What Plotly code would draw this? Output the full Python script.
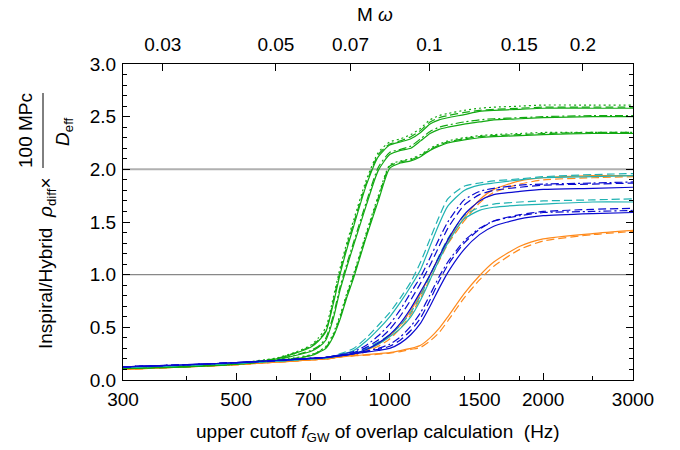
import math
import plotly.graph_objects as go

# ---------------- data ----------------
freq = [300, 400, 500, 600, 650, 700, 750, 800, 850, 900, 950, 1000, 1050,
        1100, 1150, 1200, 1250, 1300, 1400, 1500, 1600, 1800, 2000, 2500, 3000]
freq_green = [300, 400, 500, 600, 650, 700, 725, 750, 775, 800, 825, 850, 900, 950, 1000,
              1050, 1100, 1150, 1200, 1250, 1300, 1400, 1500, 1600, 1800, 2000, 2500, 3000]

# green family (on freq_green)
green_A_dot = [0.11, 0.135, 0.16, 0.21, 0.26, 0.33, 0.40, 0.50, 0.78, 1.07, 1.31, 1.52, 1.90, 2.16, 2.26,
               2.29, 2.33, 2.39, 2.47, 2.51, 2.53, 2.56, 2.58, 2.59, 2.60, 2.61, 2.61, 2.61]
green_A_dash = [0.11, 0.13, 0.155, 0.205, 0.255, 0.32, 0.38, 0.47, 0.75, 1.04, 1.28, 1.49, 1.87, 2.14, 2.24,
                2.27, 2.31, 2.37, 2.45, 2.49, 2.51, 2.54, 2.56, 2.57, 2.58, 2.59, 2.59, 2.59]
green_A_solid = [0.11, 0.13, 0.155, 0.20, 0.25, 0.31, 0.37, 0.46, 0.72, 1.01, 1.25, 1.46, 1.85, 2.12, 2.23,
                 2.26, 2.29, 2.35, 2.43, 2.47, 2.49, 2.52, 2.55, 2.56, 2.57, 2.58, 2.58, 2.58]
green_B_solid = [0.11, 0.13, 0.15, 0.19, 0.23, 0.27, 0.31, 0.38, 0.58, 0.86, 1.08, 1.28, 1.66, 1.99, 2.14,
                 2.18, 2.20, 2.27, 2.34, 2.38, 2.40, 2.43, 2.45, 2.47, 2.48, 2.49, 2.50, 2.50]
green_B_dashdot = [0.11, 0.13, 0.155, 0.195, 0.235, 0.28, 0.32, 0.40, 0.61, 0.89, 1.11, 1.31, 1.69, 2.02, 2.16,
                   2.19, 2.22, 2.29, 2.36, 2.40, 2.42, 2.45, 2.47, 2.48, 2.49, 2.50, 2.51, 2.51]
green_C_solid = [0.11, 0.125, 0.15, 0.185, 0.20, 0.23, 0.26, 0.30, 0.41, 0.58, 0.79, 0.97, 1.36, 1.70, 2.01,
                 2.06, 2.08, 2.12, 2.18, 2.22, 2.25, 2.28, 2.30, 2.31, 2.32, 2.33, 2.34, 2.34]
green_C_dash = [0.11, 0.125, 0.15, 0.185, 0.205, 0.235, 0.265, 0.31, 0.42, 0.60, 0.81, 0.99, 1.38, 1.73, 2.03,
                2.07, 2.09, 2.13, 2.19, 2.23, 2.26, 2.29, 2.31, 2.32, 2.33, 2.34, 2.35, 2.35]
green_C_dot = [0.11, 0.13, 0.15, 0.19, 0.21, 0.24, 0.27, 0.32, 0.44, 0.62, 0.83, 1.01, 1.40, 1.75, 2.04,
               2.08, 2.10, 2.14, 2.20, 2.24, 2.27, 2.30, 2.32, 2.33, 2.34, 2.35, 2.35, 2.35]

# low-frequency parts (300..750 Hz) of the other families
low_cyan = [0.12, 0.14, 0.16, 0.18, 0.19, 0.20, 0.21]
low_blue = [0.125, 0.145, 0.165, 0.185, 0.195, 0.205, 0.215]
low_orange = [0.10, 0.125, 0.145, 0.17, 0.18, 0.19, 0.20]

# 800..3000 Hz parts
cyan_U_dash = low_cyan + [0.25, 0.30, 0.40, 0.52, 0.64, 0.78, 0.93, 1.12, 1.34, 1.55, 1.72, 1.84, 1.87, 1.89, 1.91, 1.93, 1.95, 1.96]
cyan_U_solid = low_cyan + [0.24, 0.28, 0.37, 0.48, 0.60, 0.74, 0.89, 1.05, 1.27, 1.48, 1.65, 1.80, 1.85, 1.87, 1.90, 1.92, 1.93, 1.94]
cyan_L_solid = low_cyan + [0.23, 0.25, 0.29, 0.34, 0.41, 0.49, 0.60, 0.76, 0.95, 1.14, 1.30, 1.53, 1.61, 1.64, 1.66, 1.67, 1.69, 1.69]
cyan_L_dash = low_cyan + [0.23, 0.26, 0.30, 0.36, 0.43, 0.52, 0.64, 0.80, 0.99, 1.18, 1.34, 1.56, 1.64, 1.67, 1.69, 1.70, 1.71, 1.72]
blue_U_dashdot = low_blue + [0.24, 0.27, 0.33, 0.42, 0.53, 0.67, 0.83, 0.98, 1.16, 1.34, 1.50, 1.71, 1.79, 1.82, 1.85, 1.86, 1.87, 1.88]
blue_U_dash = low_blue + [0.24, 0.26, 0.31, 0.38, 0.48, 0.61, 0.76, 0.92, 1.09, 1.27, 1.44, 1.66, 1.76, 1.80, 1.83, 1.85, 1.86, 1.87]
blue_U_solid = low_blue + [0.23, 0.25, 0.29, 0.35, 0.43, 0.54, 0.68, 0.84, 1.00, 1.17, 1.33, 1.57, 1.70, 1.76, 1.79, 1.81, 1.82, 1.83]
blue_L_solid = low_blue + [0.23, 0.25, 0.265, 0.28, 0.30, 0.35, 0.43, 0.54, 0.70, 0.87, 1.02, 1.24, 1.38, 1.46, 1.53, 1.56, 1.58, 1.59]
blue_L_dash = low_blue + [0.23, 0.25, 0.27, 0.29, 0.32, 0.38, 0.47, 0.59, 0.76, 0.94, 1.09, 1.30, 1.43, 1.51, 1.57, 1.60, 1.62, 1.63]
blue_L_dashdot = low_blue + [0.23, 0.25, 0.275, 0.30, 0.34, 0.41, 0.51, 0.64, 0.81, 0.98, 1.12, 1.32, 1.44, 1.51, 1.56, 1.59, 1.60, 1.61]
orange_U_solid = low_orange + [0.22, 0.24, 0.28, 0.34, 0.42, 0.52, 0.66, 0.82, 1.00, 1.17, 1.32, 1.54, 1.71, 1.81, 1.89, 1.92, 1.94, 1.94]
orange_U_dash = low_orange + [0.22, 0.23, 0.27, 0.32, 0.39, 0.49, 0.62, 0.78, 0.96, 1.13, 1.29, 1.51, 1.68, 1.78, 1.86, 1.90, 1.92, 1.93]
orange_L_solid = low_orange + [0.22, 0.23, 0.24, 0.25, 0.26, 0.28, 0.30, 0.33, 0.40, 0.49, 0.60, 0.82, 0.99, 1.12, 1.27, 1.34, 1.39, 1.42]
orange_L_dash = low_orange + [0.22, 0.23, 0.235, 0.245, 0.255, 0.27, 0.29, 0.31, 0.37, 0.45, 0.56, 0.78, 0.95, 1.08, 1.24, 1.32, 1.38, 1.41]

# ticks / labels
x_major = [300, 500, 700, 1000, 1500, 2000, 3000]
x_minor = [400, 600, 800, 900, 1200, 1400, 1800, 2500]
y_major = [0, 0.5, 1.0, 1.5, 2.0, 2.5, 3.0]
y_labels = ["0.0", "0.5", "1.0", "1.5", "2.0", "2.5", "3.0"]
top_ticks = [0.03, 0.05, 0.07, 0.1, 0.15, 0.2]
top_labels = ["0.03", "0.05", "0.07", "0.1", "0.15", "0.2"]
ref_levels = [1.0, 2.0]
ref_colors = ["#888888", "#b0b0b0"]
ref_widths = [1.2, 2.0]

# total mass 2.7 Msun -> M*omega = 2*pi*f*M
M_sec = 2.7 * 4.925491e-6
mw_per_hz = 2 * math.pi * M_sec

GREEN = "#12a912"
CYAN = "#1fb2b2"
BLUE = "#0a0ad0"
ORANGE = "#ff8a1c"
DASH = "8px,4px"
DOT = "2px,3px"
DASHDOT = "8px,3px,2px,3px"

series = [
    (freq, orange_L_dash, ORANGE, DASH), (freq, orange_L_solid, ORANGE, "solid"),
    (freq, orange_U_dash, ORANGE, DASH), (freq, orange_U_solid, ORANGE, "solid"),
    (freq_green, green_A_dot, GREEN, DOT), (freq_green, green_A_dash, GREEN, DASH),
    (freq_green, green_A_solid, GREEN, "solid"),
    (freq_green, green_B_dashdot, GREEN, DASHDOT), (freq_green, green_B_solid, GREEN, "solid"),
    (freq_green, green_C_dot, GREEN, DOT), (freq_green, green_C_dash, GREEN, DASH),
    (freq_green, green_C_solid, GREEN, "solid"),
    (freq, cyan_U_dash, CYAN, DASH), (freq, cyan_U_solid, CYAN, "solid"),
    (freq, cyan_L_dash, CYAN, DASH), (freq, cyan_L_solid, CYAN, "solid"),
    (freq, blue_L_dashdot, BLUE, DASHDOT), (freq, blue_L_dash, BLUE, DASH),
    (freq, blue_L_solid, BLUE, "solid"),
    (freq, blue_U_dashdot, BLUE, DASHDOT), (freq, blue_U_dash, BLUE, DASH),
    (freq, blue_U_solid, BLUE, "solid"),
]

fig = go.Figure()
for xs, ys, col, dash in series:
    fig.add_trace(go.Scatter(x=xs, y=ys, mode="lines",
                             line=dict(color=col, width=1.2, dash=dash, shape="spline", smoothing=0.6),
                             showlegend=False, hoverinfo="skip"))

# invisible traces that carry the top and right axes
fig.add_trace(go.Scatter(x=top_ticks, y=[None] * len(top_ticks), xaxis="x2", yaxis="y",
                         mode="lines", showlegend=False, hoverinfo="skip"))
fig.add_trace(go.Scatter(x=x_major, y=[None] * len(x_major), xaxis="x", yaxis="y2",
                         mode="lines", showlegend=False, hoverinfo="skip"))

FONT = "Liberation Sans, Arial, Helvetica, sans-serif"
FS = 19

for lvl, c, w in zip(ref_levels, ref_colors, ref_widths):
    fig.add_shape(type="line", xref="paper", yref="y", x0=0, x1=1, y0=lvl, y1=lvl,
                  line=dict(color=c, width=w), layer="below")

fig.update_layout(
    width=680, height=450,
    margin=dict(l=123, r=47, t=64, b=70),
    paper_bgcolor="white", plot_bgcolor="white",
    font=dict(family=FONT, size=FS, color="black"),
    xaxis=dict(type="log", range=[math.log10(300), math.log10(3000)],
               tickmode="array", tickvals=x_major, ticktext=[str(v) for v in x_major],
               ticks="inside", ticklen=7, tickwidth=1, tickcolor="black",
               minor=dict(tickmode="array", tickvals=x_minor, ticks="inside", ticklen=4,
                          tickcolor="black", showgrid=False),
               showline=True, linecolor="black", linewidth=1, mirror=True,
               showgrid=False, zeroline=False, ticklabelstandoff=2),
    xaxis2=dict(type="log", overlaying="x", side="top",
                range=[math.log10(300 * mw_per_hz), math.log10(3000 * mw_per_hz)],
                tickmode="array", tickvals=top_ticks, ticktext=top_labels,
                ticks="inside", ticklen=7, tickcolor="black",
                showline=True, linecolor="black", linewidth=1,
                showgrid=False, zeroline=False, ticklabelstandoff=4),
    yaxis=dict(range=[0, 3.0], tickmode="array", tickvals=y_major, ticktext=y_labels,
               ticks="inside", ticklen=7, tickcolor="black",
               minor=dict(dtick=0.1, ticks="inside", ticklen=4, tickcolor="black", showgrid=False),
               showline=True, linecolor="black", linewidth=1, mirror=True,
               showgrid=False, zeroline=False, ticklabelstandoff=2),
    yaxis2=dict(range=[0, 3.0], overlaying="y", side="right",
                tickmode="array", tickvals=y_major, showticklabels=False,
                ticks="inside", ticklen=7, tickcolor="black",
                minor=dict(dtick=0.1, ticks="inside", ticklen=4, tickcolor="black", showgrid=False),
                showline=True, linecolor="black", linewidth=1,
                showgrid=False, zeroline=False),
)

def px_x(p):
    return (p - 123) / 510.0

def px_y(p):
    return (380 - p) / 316.0

fig.add_annotation(text="upper cutoff <i>f</i><sub>GW</sub> of overlap calculation  (Hz)",
                   xref="paper", yref="paper", x=px_x(378), y=px_y(433),
                   xanchor="center", yanchor="middle", showarrow=False, font=dict(size=FS))
fig.add_annotation(text="M <i>ω</i>", xref="paper", yref="paper", x=px_x(375), y=px_y(14),
                   xanchor="center", yanchor="middle", showarrow=False, font=dict(size=FS))
fig.add_annotation(text="Inspiral/Hybrid  <i>ρ</i><sub>diff</sub>×", textangle=-90,
                   xref="paper", yref="paper", x=px_x(47), y=px_y(263),
                   xanchor="center", yanchor="middle", showarrow=False, font=dict(size=FS))
fig.add_annotation(text="100 MPc", textangle=-90, xref="paper", yref="paper",
                   x=px_x(25), y=px_y(131), xanchor="center", yanchor="middle",
                   showarrow=False, font=dict(size=FS))
fig.add_annotation(text="<i>D</i><sub>eff</sub>", textangle=-90, xref="paper", yref="paper",
                   x=px_x(64), y=px_y(132), xanchor="center", yanchor="middle",
                   showarrow=False, font=dict(size=FS))
fig.add_shape(type="line", xref="paper", yref="paper", x0=px_x(43), x1=px_x(43),
              y0=px_y(93), y1=px_y(168), line=dict(color="black", width=1))

fig.write_html("out.html")
